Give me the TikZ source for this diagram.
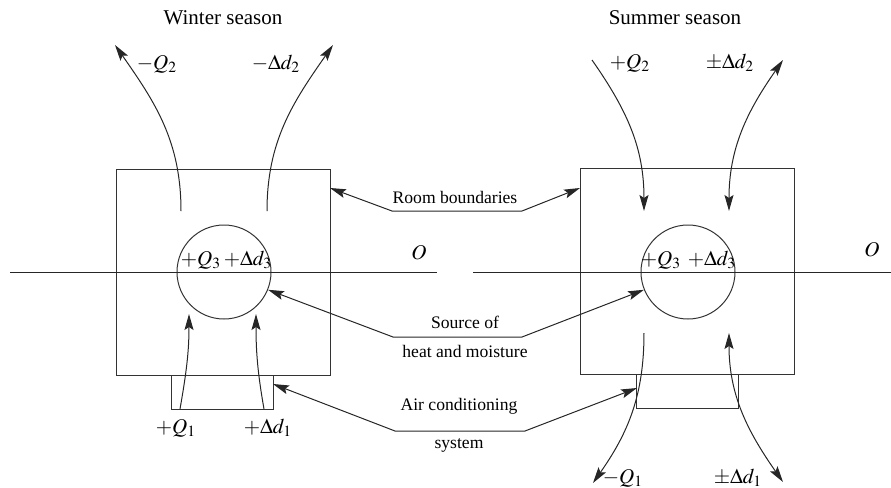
\documentclass[tikz,border=0pt]{standalone}
\usepackage{mathptmx}
\usepackage[no-math]{fontspec}
\setmainfont{Liberation Serif}
\usetikzlibrary{arrows.meta, positioning}
\tikzstyle{room} = [rectangle, draw=black!80, line width=0.5pt, inner sep=0pt, minimum width=107pt, minimum height=103pt]
\tikzstyle{acbox} = [rectangle, draw=black!80, line width=0.5pt, inner sep=0pt, minimum width=51pt, minimum height=17pt]
\tikzstyle{source} = [circle, draw=black!80, line width=0.5pt, inner sep=0pt, minimum size=47pt]
\tikzstyle{flow} = [line width=0.5pt, draw=black!85, -{Stealth[length=8pt,width=4.5pt,inset=1.5pt]}]
\tikzstyle{twoway} = [line width=0.5pt, draw=black!85, {Stealth[length=8pt,width=4.5pt,inset=1.5pt]}-{Stealth[length=8pt,width=4.5pt,inset=1.5pt]}]
\tikzstyle{leader} = [line width=0.5pt, draw=black!85, {Stealth[length=8pt,width=4.5pt,inset=1.5pt]}-{Stealth[length=8pt,width=4.5pt,inset=1.5pt]}]
\tikzstyle{title} = [font=\fontsize{10.5}{12}\selectfont, inner sep=1pt]
\tikzstyle{callout} = [font=\fontsize{8.8}{10}\selectfont, inner sep=1pt]
\tikzstyle{qty} = [font=\fontsize{10.5}{12}\selectfont, inner sep=0pt]

\begin{document}
\begin{tikzpicture}[x=0.5pt, y=-0.5pt]
    \useasboundingbox (0,0) rectangle (891,488);

    % Winter season
    \node (wtitle) [title] at (223,18) {Winter season};
    \node (wroom) [room] at (223,272.5) {};
    \node (wac) [acbox] at (222,392) {};
    \node (wsrc) [source] at (224,272) {};
    \draw [line width=0.5pt, black!85] (10,272) coordinate (wline) -- (437,272) coordinate (wlineend);
    \node (wO) [qty] at (419,253) {$O$};
    \node (wq3) [qty] at (201,260) {$+Q_3$};
    \node (wd3) [qty] at (248,260) {$+\Delta d_3$};

    \coordinate (wq2a) at (181,211);
    \coordinate (wq2b) at (115,45);
    \coordinate (wd2a) at (267,211);
    \coordinate (wd2b) at (333,45);
    \coordinate (wq1a) at (180,409);
    \coordinate (wq1b) at (189,314);
    \coordinate (wd1a) at (264,409);
    \coordinate (wd1b) at (256,314);
    \draw [flow] (wq2a) to[out=90, in=-55] (wq2b);
    \draw [flow] (wd2a) to[out=90, in=-125] (wd2b);
    \draw [flow] (wq1a) to[out=80, in=-90] (wq1b);
    \draw [flow] (wd1a) to[out=100, in=-90] (wd1b);
    \node (wq2) [qty] at (157,64) {$-Q_2$};
    \node (wd2) [qty] at (276,64) {$-\Delta d_2$};
    \node (wq1) [qty] at (176,428) {$+Q_1$};
    \node (wd1) [qty] at (268,428) {$+\Delta d_1$};

    % Summer season
    \node (stitle) [title] at (675,18) {Summer season};
    \node (sroom) [room] at (687,271) {};
    \node (sac) [acbox] at (687.5,391) {};
    \node (ssrc) [source] at (688,272) {};
    \draw [line width=0.5pt, black!85] (473,272) coordinate (sline) -- (891,272) coordinate (slineend);
    \node (sO) [qty] at (872,250) {$O$};
    \node (sq3) [qty] at (661,260) {$+Q_3$};
    \node (sd3) [qty] at (712,260) {$+\Delta d_3$};

    \coordinate (sq2a) at (592,60);
    \coordinate (sq2b) at (644,211);
    \coordinate (sd2a) at (729,211);
    \coordinate (sd2b) at (783,60);
    \coordinate (sq1a) at (644,333);
    \coordinate (sq1b) at (593,483);
    \coordinate (sd1a) at (729,333);
    \coordinate (sd1b) at (783,482);
    \draw [flow] (sq2a) to[out=-55, in=90] (sq2b);
    \draw [twoway] (sd2a) to[out=90, in=-125] (sd2b);
    \draw [flow] (sq1a) to[out=-90, in=55] (sq1b);
    \draw [twoway] (sd1a) to[out=-90, in=125] (sd1b);
    \node (sq2) [qty] at (630,63) {$+Q_2$};
    \node (sd2) [qty] at (730,63) {$\pm\Delta d_2$};
    \node (sq1) [qty] at (623,478) {$-Q_1$};
    \node (sd1) [qty] at (738,478) {$\pm\Delta d_1$};

    % Callouts
    \node (rooms) [callout] at (455,197) {Room boundaries};
    \coordinate (roomsL) at (392,211);
    \coordinate (roomsR) at (522,211);
    \coordinate (wroomtip) at (330,188);
    \coordinate (sroomtip) at (580,188);
    \draw [leader] (wroomtip) -- (roomsL) -- (roomsR) -- (sroomtip);

    \node (srcs) [callout] at (465,322) {Source of};
    \node (srcs2) [callout] at (465,351) {heat and moisture};
    \coordinate (srcsL) at (393,337);
    \coordinate (srcsR) at (522,337);
    \draw [leader] (wsrc.-22) -- (srcsL) -- (srcsR) -- (ssrc.202);

    \node (acs) [callout] at (459,406) {Air conditioning};
    \node (acs2) [callout] at (459,445) {system};
    \coordinate (acsL) at (395,431);
    \coordinate (acsR) at (525,431);
    \coordinate (wactip) at (273,384);
    \coordinate (sactip) at (637,388);
    \draw [leader] (wactip) -- (acsL) -- (acsR) -- (sactip);

\end{tikzpicture}
\end{document}
